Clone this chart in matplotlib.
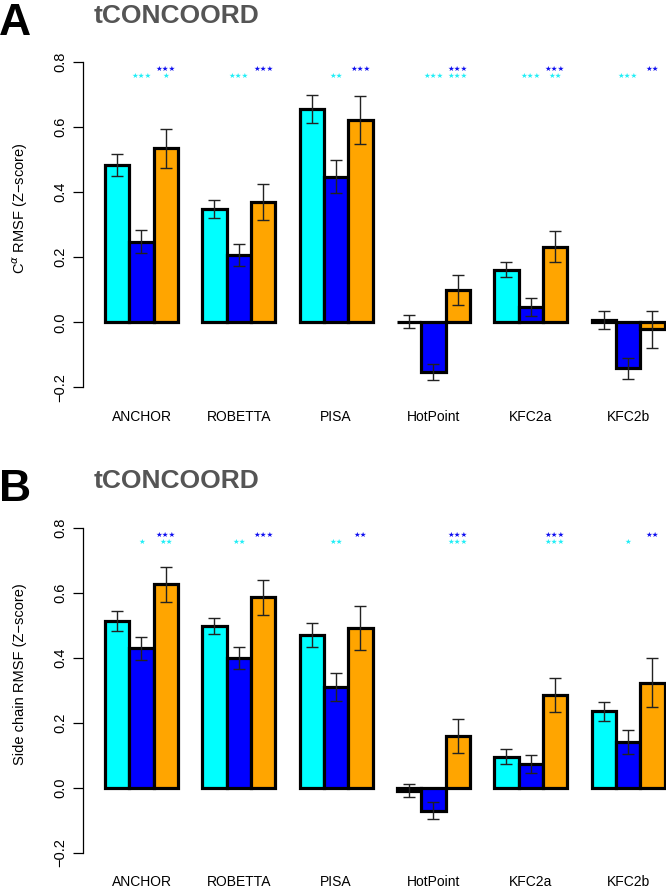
import numpy as np
import matplotlib
matplotlib.use("Agg")
import matplotlib.pyplot as plt

plt.rcParams['font.family'] = ['Liberation Sans', 'DejaVu Sans']

groups = ["ANCHOR", "ROBETTA", "PISA", "HotPoint", "KFC2a", "KFC2b"]

# panel A: C-alpha RMSF
ca_cyan = [0.484, 0.348, 0.655, 0.002, 0.162, 0.007]
ca_cyan_err = [0.033, 0.028, 0.043, 0.02, 0.022, 0.028]
ca_blue = [0.248, 0.207, 0.448, -0.152, 0.048, -0.142]
ca_blue_err = [0.036, 0.035, 0.05, 0.024, 0.028, 0.033]
ca_orange = [0.535, 0.369, 0.622, 0.098, 0.233, -0.022]
ca_orange_err = [0.06, 0.055, 0.073, 0.046, 0.047, 0.056]
# significance stars: cyan-vs-blue, cyan-vs-orange, blue-vs-orange
ca_stars_cb = [3, 3, 2, 3, 3, 3]
ca_stars_co = [1, 0, 0, 3, 2, 0]
ca_stars_bo = [3, 3, 3, 3, 3, 2]

# panel B: side chain RMSF
sc_cyan = [0.513, 0.498, 0.469, -0.01, 0.095, 0.235]
sc_cyan_err = [0.03, 0.025, 0.037, 0.02, 0.022, 0.029]
sc_blue = [0.428, 0.398, 0.31, -0.071, 0.072, 0.139]
sc_blue_err = [0.036, 0.033, 0.043, 0.025, 0.027, 0.037]
sc_orange = [0.626, 0.585, 0.49, 0.158, 0.284, 0.322]
sc_orange_err = [0.054, 0.053, 0.068, 0.053, 0.052, 0.075]
sc_stars_cb = [1, 2, 2, 0, 0, 1]
sc_stars_co = [2, 0, 0, 3, 3, 0]
sc_stars_bo = [3, 3, 2, 3, 3, 2]

colors = ["#00FFFF", "#0000FF", "#FFA500"]
star_colors = ["#22EEF6", "#1010F0"]

W, H = 666, 888
fig = plt.figure(figsize=(W / 100, H / 100), dpi=100)


def px_axes(zero_y):
    # axes placed so data maps like the R barplot (x unit = 24.33 px)
    left = 82.6 / W
    width = 604.4 / W
    top = zero_y - 0.944 * 325
    bottom = zero_y + 0.244 * 325
    return fig.add_axes([left, (H - bottom) / H, width, (bottom - top) / H])


def put_stars(ax, x, y, n, color):
    if n == 0:
        return
    ax.text(x, y, "\u2605" * n, color=color, fontsize=5.4,
            family="DejaVu Sans", ha="center", va="center", zorder=4)


def draw_panel(ax, series, errs, stars, ylabel, letter, zero_y):
    idx = np.arange(len(groups))
    for k, (vals, err) in enumerate(zip(series, errs)):
        x = 4 * idx + 1.5 + k
        ax.bar(x, vals, width=1.0, color=colors[k], edgecolor="black",
               linewidth=2.3, zorder=2)
        ax.errorbar(x, vals, yerr=err, fmt="none", ecolor="#222222",
                    elinewidth=1.0, capsize=4, capthick=1.0, zorder=3)

    cb, co, bo = stars
    for i in idx:
        put_stars(ax, 4 * i + 2.5, 0.757, cb[i], star_colors[0])
        put_stars(ax, 4 * i + 3.5, 0.757, co[i], star_colors[0])
        put_stars(ax, 4 * i + 3.5, 0.778, bo[i], star_colors[1])

    ax.set_xlim(0.08, 24.92)
    ax.set_ylim(-0.244, 0.944)
    for s in ["top", "right", "bottom"]:
        ax.spines[s].set_visible(False)
    ax.spines["left"].set_bounds(-0.2, 0.8)
    ax.spines["left"].set_linewidth(0.9)
    ax.set_yticks([-0.2, 0.0, 0.2, 0.4, 0.6, 0.8])
    ax.set_yticklabels(["\u22120.2", "0.0", "0.2", "0.4", "0.6", "0.8"],
                       rotation=90, va="center")
    ax.tick_params(axis="y", length=7, width=0.9, pad=4, labelsize=10.5)
    ax.set_xticks(4 * idx + 2.5)
    ax.set_xticklabels(groups, fontsize=10)
    ax.tick_params(axis="x", length=0, pad=6)
    ax.patch.set_visible(False)

    fig.text(20 / W, 1 - (zero_y - 0.35 * 325) / H, ylabel, rotation=90,
             ha="center", va="center", fontsize=10.5)
    fig.text(177 / W, 1 - (zero_y - 299) / H, "tCONCOORD", color="#555555",
             fontsize=19, fontweight="bold", ha="center", va="baseline")
    fig.text(-1 / W, 1 - (zero_y - 287) / H, letter, color="black",
             fontsize=32, fontweight="bold", ha="left", va="baseline")


ax1 = px_axes(322.3)
draw_panel(ax1, [ca_cyan, ca_blue, ca_orange],
           [ca_cyan_err, ca_blue_err, ca_orange_err],
           [ca_stars_cb, ca_stars_co, ca_stars_bo],
           "C$^{\\alpha}$ RMSF (Z\u2212score)", "A", 322.3)

ax2 = px_axes(787.5)
draw_panel(ax2, [sc_cyan, sc_blue, sc_orange],
           [sc_cyan_err, sc_blue_err, sc_orange_err],
           [sc_stars_cb, sc_stars_co, sc_stars_bo],
           "Side chain RMSF (Z\u2212score)", "B", 787.5)

fig.savefig("out.png", dpi=100)
